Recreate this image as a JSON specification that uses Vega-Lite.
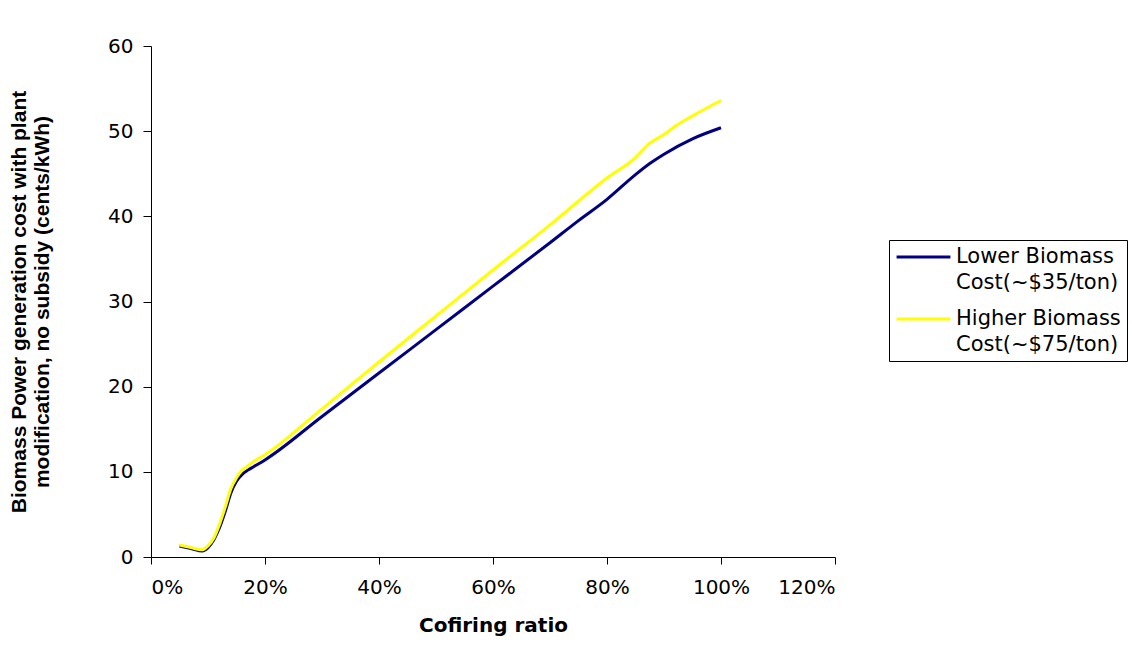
{
  "$schema": "https://vega.github.io/schema/vega-lite/v6.json",
  "width": 684,
  "height": 511,
  "autosize": {"type": "none"},
  "padding": {"left": 151, "top": 46, "right": 297, "bottom": 101},
  "background": "white",
  "config": {
    "view": {"stroke": null},
    "style": {"guide-label": {"lineHeight": 26}}
  },
  "data": {
    "values": [
      {"ratio": 0.05, "cost": 1.3, "series": "Lower Biomass|Cost(~$35/ton)"},
      {"ratio": 0.07, "cost": 1.0, "series": "Lower Biomass|Cost(~$35/ton)"},
      {"ratio": 0.09, "cost": 0.7, "series": "Lower Biomass|Cost(~$35/ton)"},
      {"ratio": 0.10, "cost": 1.1, "series": "Lower Biomass|Cost(~$35/ton)"},
      {"ratio": 0.11, "cost": 2.0, "series": "Lower Biomass|Cost(~$35/ton)"},
      {"ratio": 0.12, "cost": 3.4, "series": "Lower Biomass|Cost(~$35/ton)"},
      {"ratio": 0.13, "cost": 5.3, "series": "Lower Biomass|Cost(~$35/ton)"},
      {"ratio": 0.14, "cost": 7.5, "series": "Lower Biomass|Cost(~$35/ton)"},
      {"ratio": 0.15, "cost": 8.9, "series": "Lower Biomass|Cost(~$35/ton)"},
      {"ratio": 0.16, "cost": 9.7, "series": "Lower Biomass|Cost(~$35/ton)"},
      {"ratio": 0.17, "cost": 10.2, "series": "Lower Biomass|Cost(~$35/ton)"},
      {"ratio": 0.18, "cost": 10.6, "series": "Lower Biomass|Cost(~$35/ton)"},
      {"ratio": 0.20, "cost": 11.4, "series": "Lower Biomass|Cost(~$35/ton)"},
      {"ratio": 0.30, "cost": 16.5, "series": "Lower Biomass|Cost(~$35/ton)"},
      {"ratio": 0.40, "cost": 21.6, "series": "Lower Biomass|Cost(~$35/ton)"},
      {"ratio": 0.50, "cost": 26.7, "series": "Lower Biomass|Cost(~$35/ton)"},
      {"ratio": 0.60, "cost": 31.8, "series": "Lower Biomass|Cost(~$35/ton)"},
      {"ratio": 0.70, "cost": 36.9, "series": "Lower Biomass|Cost(~$35/ton)"},
      {"ratio": 0.75, "cost": 39.5, "series": "Lower Biomass|Cost(~$35/ton)"},
      {"ratio": 0.80, "cost": 42.0, "series": "Lower Biomass|Cost(~$35/ton)"},
      {"ratio": 0.85, "cost": 44.9, "series": "Lower Biomass|Cost(~$35/ton)"},
      {"ratio": 0.875, "cost": 46.2, "series": "Lower Biomass|Cost(~$35/ton)"},
      {"ratio": 0.90, "cost": 47.3, "series": "Lower Biomass|Cost(~$35/ton)"},
      {"ratio": 0.95, "cost": 49.1, "series": "Lower Biomass|Cost(~$35/ton)"},
      {"ratio": 1.00, "cost": 50.4, "series": "Lower Biomass|Cost(~$35/ton)"},
      {"ratio": 0.05, "cost": 1.4, "series": "Higher Biomass|Cost(~$75/ton)"},
      {"ratio": 0.07, "cost": 1.1, "series": "Higher Biomass|Cost(~$75/ton)"},
      {"ratio": 0.09, "cost": 0.85, "series": "Higher Biomass|Cost(~$75/ton)"},
      {"ratio": 0.10, "cost": 1.3, "series": "Higher Biomass|Cost(~$75/ton)"},
      {"ratio": 0.11, "cost": 2.2, "series": "Higher Biomass|Cost(~$75/ton)"},
      {"ratio": 0.12, "cost": 3.8, "series": "Higher Biomass|Cost(~$75/ton)"},
      {"ratio": 0.13, "cost": 5.8, "series": "Higher Biomass|Cost(~$75/ton)"},
      {"ratio": 0.14, "cost": 8.0, "series": "Higher Biomass|Cost(~$75/ton)"},
      {"ratio": 0.15, "cost": 9.3, "series": "Higher Biomass|Cost(~$75/ton)"},
      {"ratio": 0.16, "cost": 10.2, "series": "Higher Biomass|Cost(~$75/ton)"},
      {"ratio": 0.17, "cost": 10.7, "series": "Higher Biomass|Cost(~$75/ton)"},
      {"ratio": 0.18, "cost": 11.2, "series": "Higher Biomass|Cost(~$75/ton)"},
      {"ratio": 0.20, "cost": 12.0, "series": "Higher Biomass|Cost(~$75/ton)"},
      {"ratio": 0.30, "cost": 17.4, "series": "Higher Biomass|Cost(~$75/ton)"},
      {"ratio": 0.40, "cost": 22.9, "series": "Higher Biomass|Cost(~$75/ton)"},
      {"ratio": 0.50, "cost": 28.3, "series": "Higher Biomass|Cost(~$75/ton)"},
      {"ratio": 0.60, "cost": 33.7, "series": "Higher Biomass|Cost(~$75/ton)"},
      {"ratio": 0.70, "cost": 39.0, "series": "Higher Biomass|Cost(~$75/ton)"},
      {"ratio": 0.80, "cost": 44.5, "series": "Higher Biomass|Cost(~$75/ton)"},
      {"ratio": 0.85, "cost": 46.9, "series": "Higher Biomass|Cost(~$75/ton)"},
      {"ratio": 0.875, "cost": 48.6, "series": "Higher Biomass|Cost(~$75/ton)"},
      {"ratio": 0.90, "cost": 49.6, "series": "Higher Biomass|Cost(~$75/ton)"},
      {"ratio": 0.92, "cost": 50.6, "series": "Higher Biomass|Cost(~$75/ton)"},
      {"ratio": 0.95, "cost": 51.8, "series": "Higher Biomass|Cost(~$75/ton)"},
      {"ratio": 1.00, "cost": 53.6, "series": "Higher Biomass|Cost(~$75/ton)"}
    ]
  },
  "mark": {"type": "line", "interpolate": "monotone", "strokeWidth": 3},
  "encoding": {
    "x": {
      "field": "ratio",
      "type": "quantitative",
      "scale": {"domain": [0, 1.2], "nice": false, "zero": false},
      "axis": {
        "title": "Cofiring ratio",
        "values": [0, 0.2, 0.4, 0.6, 0.8, 1.0, 1.2],
        "format": ".0%",
        "grid": false,
        "domainColor": "black",
        "tickColor": "black",
        "tickSize": 7,
        "labelFont": "DejaVu Sans",
        "labelFontSize": 20,
        "labelColor": "black",
        "labelPadding": 13,
        "titleFont": "DejaVu Sans",
        "titleFontSize": 20,
        "titleFontWeight": "bold",
        "titleColor": "black",
        "titlePadding": 18
      }
    },
    "y": {
      "field": "cost",
      "type": "quantitative",
      "scale": {"domain": [0, 60], "nice": false},
      "axis": {
        "title": ["Biomass Power generation cost with plant", "modification, no subsidy (cents/kWh)"],
        "values": [0, 10, 20, 30, 40, 50, 60],
        "grid": false,
        "domainColor": "black",
        "tickColor": "black",
        "tickSize": 8,
        "labelFont": "DejaVu Sans",
        "labelFontSize": 20,
        "labelColor": "black",
        "labelPadding": 10,
        "titleFont": "Liberation Sans",
        "titleFontSize": 21,
        "titleFontWeight": "bold",
        "titleColor": "black",
        "titleLineHeight": 23,
        "titlePadding": 55
      }
    },
    "color": {
      "field": "series",
      "type": "nominal",
      "scale": {
        "domain": ["Lower Biomass|Cost(~$35/ton)", "Higher Biomass|Cost(~$75/ton)"],
        "range": ["#000080", "#FFFF00"]
      },
      "legend": {
        "title": null,
        "orient": "none",
        "legendX": 738,
        "legendY": 194,
        "strokeColor": "black",
        "padding": 6,
        "symbolType": "stroke",
        "symbolSize": 2900,
        "symbolStrokeWidth": 3,
        "clipHeight": 22,
        "labelExpr": "split(datum.label, '|')",
        "labelFont": "DejaVu Sans",
        "labelFontSize": 21,
        "labelColor": "black",
        "labelBaseline": "middle",
        "labelOffset": 4,
        "labelLimit": 400,
        "rowPadding": 15
      }
    }
  }
}
